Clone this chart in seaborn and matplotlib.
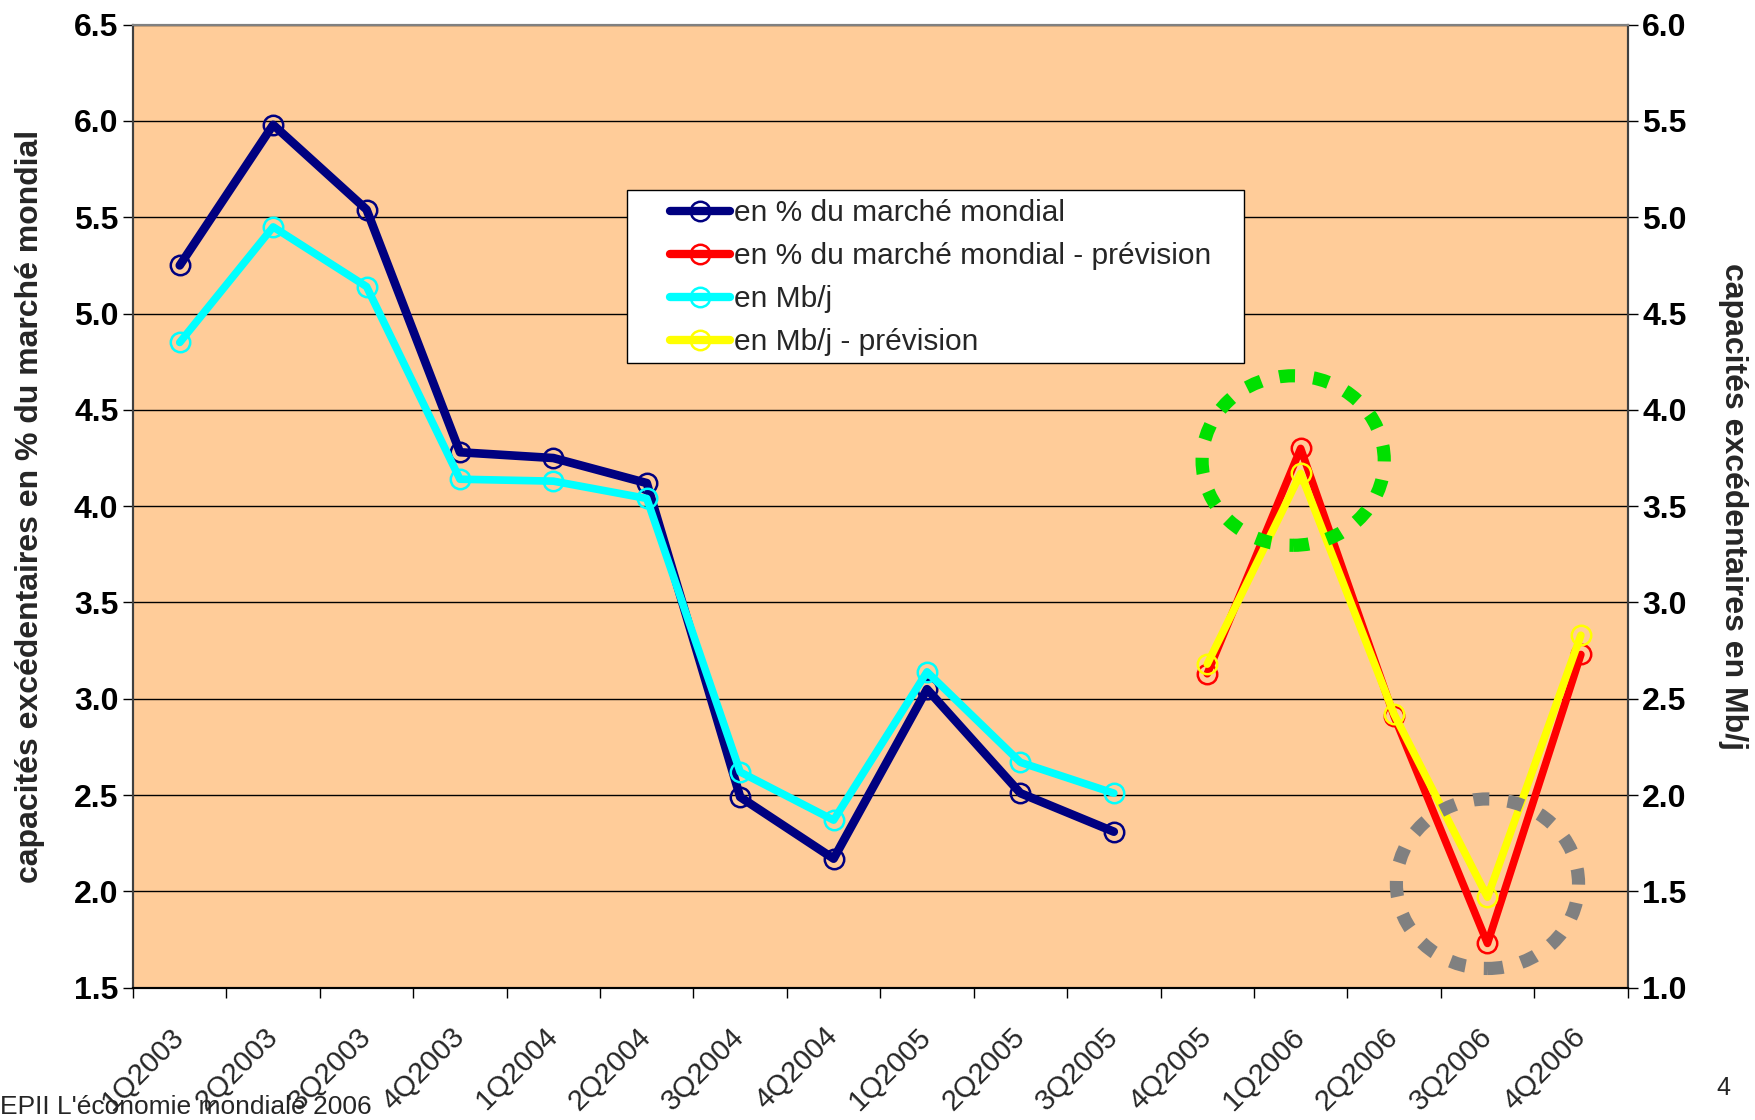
import matplotlib

matplotlib.use("Agg")
import matplotlib.pyplot as plt
import numpy as np
import pandas as pd
import seaborn as sns
from matplotlib.lines import Line2D
from matplotlib.patches import Ellipse, Rectangle

quarters = [
    "1Q2003", "2Q2003", "3Q2003", "4Q2003",
    "1Q2004", "2Q2004", "3Q2004", "4Q2004",
    "1Q2005", "2Q2005", "3Q2005", "4Q2005",
    "1Q2006", "2Q2006", "3Q2006", "4Q2006",
]
# observed quarters: 1Q2003..3Q2005, forecast: 4Q2005..4Q2006
pct_market = [5.25, 5.98, 5.54, 4.28, 4.25, 4.12, 2.49, 2.17, 3.05, 2.51, 2.31]
pct_forecast = [3.13, 4.30, 2.91, 1.73, 3.23]
mbj = [4.35, 4.95, 4.64, 3.64, 3.63, 3.54, 2.12, 1.87, 2.64, 2.17, 2.01]
mbj_forecast = [2.68, 3.67, 2.42, 1.47, 2.83]

left_ticks = [1.5, 2.0, 2.5, 3.0, 3.5, 4.0, 4.5, 5.0, 5.5, 6.0, 6.5]
right_ticks = [1.0, 1.5, 2.0, 2.5, 3.0, 3.5, 4.0, 4.5, 5.0, 5.5, 6.0]

legend_labels = [
    "en % du marché mondial",
    "en % du marché mondial - prévision",
    "en Mb/j",
    "en Mb/j - prévision",
]

NAVY = "#000080"
RED = "#FF0000"
CYAN = "#00FFFF"
YELLOW = "#FFFF00"
BG = "#FFCC99"

sns.set_style("ticks")
plt.rcParams["font.family"] = ["Liberation Sans", "DejaVu Sans"]

n_hist = len(pct_market)
pos = np.arange(len(quarters))
hist = pd.DataFrame({"pos": pos[:n_hist], "pct": pct_market, "mbj": mbj})
fcst = pd.DataFrame({"pos": pos[n_hist:], "pct": pct_forecast, "mbj": mbj_forecast})

fig = plt.figure(figsize=(17.55, 11.2), dpi=100)
ax = fig.add_axes([0.0758, 0.1181, 0.8516, 0.8599])
ax.set_facecolor(BG)
ax2 = ax.twinx()

line_kw = dict(marker="o", markersize=14, markerfacecolor="none", markeredgewidth=1.8)

sns.lineplot(data=hist, x="pos", y="pct", ax=ax, color=NAVY, linewidth=6.2,
             markeredgecolor=NAVY, **line_kw)
sns.lineplot(data=fcst, x="pos", y="pct", ax=ax, color=RED, linewidth=5.5,
             markeredgecolor=RED, **line_kw)
sns.lineplot(data=hist, x="pos", y="mbj", ax=ax2, color=CYAN, linewidth=5.5,
             markeredgecolor=CYAN, **line_kw)
sns.lineplot(data=fcst, x="pos", y="mbj", ax=ax2, color=YELLOW, linewidth=5.5,
             markeredgecolor=YELLOW, **line_kw)

# dotted circles highlighting the forecast peak and trough
for cx, cy, col in [(11.92, 3.737, "#00E000"), (14.0, 1.54, "#808080")]:
    ax2.add_patch(Ellipse((cx, cy), width=1.95, height=0.88, fill=False,
                          edgecolor=col, linewidth=9.5, linestyle=(0, (1.2, 1.4)),
                          zorder=5))

ax.set_xlim(-0.5, len(quarters) - 0.5)
ax.set_ylim(1.5, 6.5)
ax2.set_ylim(1.0, 6.0)

ax.set_yticks(left_ticks)
ax.set_yticklabels([f"{v:.1f}" for v in left_ticks])
ax2.set_yticks(right_ticks)
ax2.set_yticklabels([f"{v:.1f}" for v in right_ticks])
for a in (ax, ax2):
    a.tick_params(axis="y", length=7, width=1, colors="black", labelsize=23)
    for lbl in a.get_yticklabels():
        lbl.set_fontweight("bold")

ax.yaxis.grid(True, color="black", linewidth=1)
ax.set_axisbelow(True)

ax.set_xticks(np.arange(-0.5, len(quarters), 1))
ax.set_xticklabels([])
ax.set_xticks(pos, minor=True)
ax.set_xticklabels(quarters, minor=True, fontsize=21)
ax.tick_params(axis="x", which="major", length=7, width=1, color="black")
ax.tick_params(axis="x", which="minor", length=0, pad=32)
for lbl in ax.get_xticklabels(minor=True):
    lbl.set_rotation(45)
    lbl.set_ha("right")
    lbl.set_va("center")
    lbl.set_rotation_mode("anchor")

ax.set_xlabel("")
ax.set_ylabel("capacités excédentaires en % du marché mondial",
              fontsize=23, fontweight="bold")
ax.yaxis.set_label_coords(-0.059, 0.5)
ax2.set_ylabel("capacités excédentaires en Mb/j", fontsize=23,
               fontweight="bold", rotation=-90, va="center")
ax2.yaxis.set_label_coords(1.0706, 0.5)

for a in (ax, ax2):
    a.spines["left"].set_color("#404040")
    a.spines["right"].set_color("#404040")
    a.spines["bottom"].set_color("black")
    a.spines["top"].set_color("#808080")
    for s in a.spines.values():
        s.set_linewidth(1.5)

# legend: white box with thin black frame
fig.add_artist(Rectangle((0.3573, 0.6759), 0.3516, 0.1545, transform=fig.transFigure,
                         facecolor="white", edgecolor="black", linewidth=1, zorder=3))
handles = [
    Line2D([], [], color=c, linewidth=6, marker="o", markersize=14,
           markerfacecolor="none", markeredgecolor=c, markeredgewidth=1.8)
    for c in (NAVY, RED, CYAN, YELLOW)
]
leg = fig.legend(handles, legend_labels, loc="upper left",
                 bbox_to_anchor=(0.382, 0.822), frameon=False, fontsize=21.5,
                 borderpad=0, borderaxespad=0, handlelength=2.0,
                 handletextpad=0.13, labelspacing=0.5)
leg.set_zorder(4)

fig.text(0.0, 0.0116, "EPII L'économie mondiale 2006", fontsize=19, va="center", ha="left")
fig.text(0.9818, 0.0286, "4", fontsize=18, va="center", ha="center")

fig.savefig("out.png", dpi=100, facecolor="white")
